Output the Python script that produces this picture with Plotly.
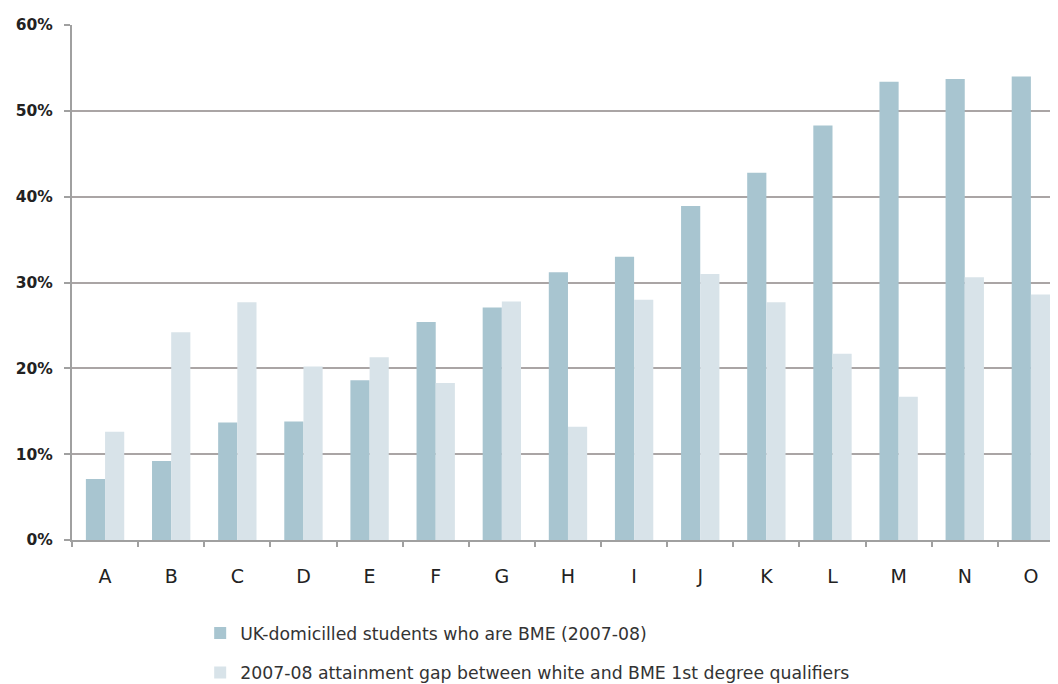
import plotly.graph_objects as go

categories = ["A", "B", "C", "D", "E", "F", "G", "H", "I", "J", "K", "L", "M", "N", "O"]
bme_share = [7.1, 9.2, 13.7, 13.8, 18.6, 25.4, 27.1, 31.2, 33.0, 38.9, 42.8, 48.3, 53.4, 53.7, 54.0]
attainment_gap = [12.6, 24.2, 27.7, 20.2, 21.3, 18.3, 27.8, 13.2, 28.0, 31.0, 27.7, 21.7, 16.7, 30.6, 28.6]
series_names = ["UK-domicilled students who are BME (2007-08)",
                "2007-08 attainment gap between white and BME 1st degree qualifiers"]
y_ticks = [0, 10, 20, 30, 40, 50, 60]
y_tick_labels = ["0%", "10%", "20%", "30%", "40%", "50%", "60%"]

FONT = "DejaVu Sans"

fig = go.Figure()
fig.add_trace(go.Bar(x=categories, y=bme_share, name=series_names[0],
                     marker=dict(color="#a8c5d0", line=dict(width=0)),
                     legendgroup="a"))
fig.add_trace(go.Bar(x=categories, y=attainment_gap, name=series_names[1],
                     marker=dict(color="#d8e3e9", line=dict(width=0)),
                     legendgroup="b"))

fig.update_layout(
    width=1050, height=676,
    margin=dict(l=64, r=0, t=17, b=144, autoexpand=False),
    paper_bgcolor="white", plot_bgcolor="white",
    barmode="group", bargap=0.42, bargroupgap=0,
    font=dict(family=FONT, color="#333333"),
    legend=dict(orientation="v", x=0.13, xanchor="left", y=-0.146, yanchor="top",
                font=dict(size=17.3, color="#333333"), tracegroupgap=14,
                bgcolor="rgba(0,0,0,0)"),
    showlegend=True,
)
fig.update_xaxes(
    range=[-0.5, 14.41],
    showline=True, linecolor="#a0a0a0", linewidth=2,
    ticks="outside", tickson="boundaries", ticklen=5, tickcolor="#a0a0a0", tickwidth=2,
    tickfont=dict(size=19, color="#222222"), ticklabelstandoff=18,
    showgrid=False,
)
fig.update_yaxes(
    range=[0, 60], tickvals=y_ticks, ticktext=y_tick_labels,
    showline=True, linecolor="#a0a0a0", linewidth=2,
    ticks="outside", ticklen=6, tickcolor="#a0a0a0", tickwidth=2,
    showgrid=True, gridcolor="#aaa5a5", gridwidth=2,
    tickfont=dict(size=15.5, color="#222222", weight="bold"), ticklabelstandoff=8,
    zeroline=False,
)

fig.write_html("out.html")
